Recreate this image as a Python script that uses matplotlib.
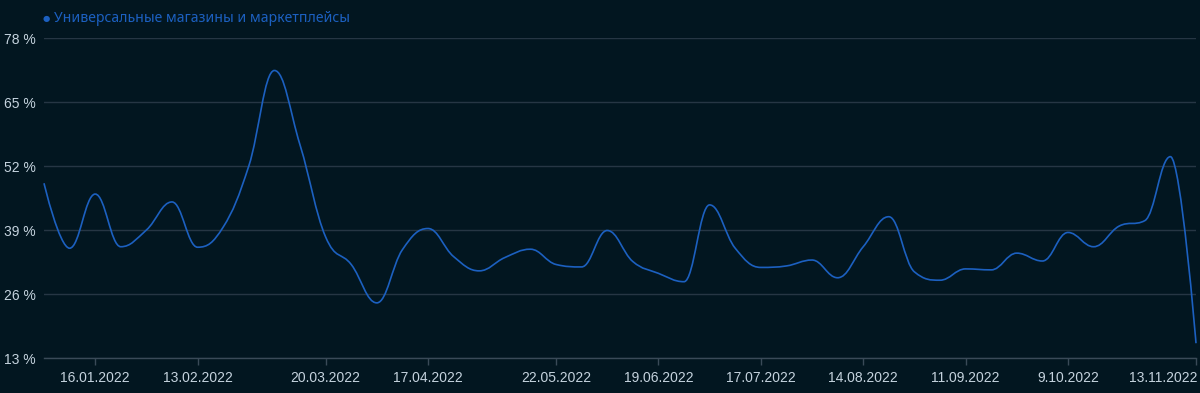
import numpy as np
import pandas as pd
import matplotlib
matplotlib.use("Agg")
import matplotlib.pyplot as plt
import matplotlib.dates as mdates
from matplotlib.path import Path
from matplotlib.patches import PathPatch
import matplotlib.transforms as mtransforms

# ---- data ----
series_name = "Универсальные магазины и маркетплейсы"
start_date = "2022-01-02"
values = [48.5, 35.3, 46.3, 35.6, 39.0, 44.7, 35.5, 39.6, 52.0, 71.4,
          56.3, 37.6, 32.0, 24.2, 35.0, 39.3, 33.6, 30.7, 33.4, 35.1,
          32.0, 31.5, 38.9, 32.6, 30.2, 28.5, 44.1, 35.3, 31.4, 31.7,
          32.9, 29.3, 35.6, 41.7, 30.5, 28.8, 31.1, 30.9, 34.3, 32.7,
          38.5, 35.6, 39.8, 40.9, 53.9, 16.0]
tick_dates = ["2022-01-16", "2022-02-13", "2022-03-20", "2022-04-17",
              "2022-05-22", "2022-06-19", "2022-07-17", "2022-08-14",
              "2022-09-11", "2022-10-09", "2022-11-13"]
tick_labels = ["16.01.2022", "13.02.2022", "20.03.2022", "17.04.2022",
               "22.05.2022", "19.06.2022", "17.07.2022", "14.08.2022",
               "11.09.2022", "9.10.2022", "13.11.2022"]
y_ticks = [13, 26, 39, 52, 65, 78]

dates = pd.date_range(start_date, periods=len(values), freq="7D")
xs = mdates.date2num(dates.to_pydatetime())
ys = np.array(values, dtype=float)

# ---- colours ----
BG = "#021620"
GRID = "#263644"
TXT = "#c5d3de"
LINE = "#1c60c0"

fig = plt.figure(figsize=(12, 3.93), dpi=100, facecolor=BG)
ax = fig.add_axes([44 / 1200, 1 - 358 / 393, (1196 - 44) / 1200, (358 - 38) / 393])
ax.set_facecolor(BG)


def spline_path(x, y, smoothing=1.5):
    n = len(x)
    denom = smoothing + 1
    verts = [(x[0], y[0])]
    codes = [Path.MOVETO]
    prev_right = (x[0], y[0])
    for i in range(1, n):
        px, py = x[i], y[i]
        if i < n - 1:
            lx, ly = x[i - 1], y[i - 1]
            nx, ny = x[i + 1], y[i + 1]
            lcx = (smoothing * px + lx) / denom
            lcy = (smoothing * py + ly) / denom
            rcx = (smoothing * px + nx) / denom
            rcy = (smoothing * py + ny) / denom
            corr = 0.0
            if rcx != lcx:
                corr = (rcy - lcy) * (rcx - px) / (rcx - lcx) + py - rcy
            lcy += corr
            rcy += corr
            if lcy > ly and lcy > py:
                lcy = max(ly, py); rcy = 2 * py - lcy
            elif lcy < ly and lcy < py:
                lcy = min(ly, py); rcy = 2 * py - lcy
            if rcy > ny and rcy > py:
                rcy = max(ny, py); lcy = 2 * py - rcy
            elif rcy < ny and rcy < py:
                rcy = min(ny, py); lcy = 2 * py - rcy
        else:
            lcx, lcy = px, py
            rcx, rcy = px, py
        verts += [prev_right, (lcx, lcy), (px, py)]
        codes += [Path.CURVE4, Path.CURVE4, Path.CURVE4]
        prev_right = (rcx, rcy)
    return Path(verts, codes)


patch = PathPatch(spline_path(xs, ys), facecolor="none", edgecolor=LINE,
                  lw=1.2, transform=ax.transData, zorder=3, clip_on=False)
ax.add_patch(patch)
ax.plot(xs, ys, alpha=0)  # register data limits

ax.set_xlim(xs[0], xs[-1])
ax.set_ylim(13, 78)

ax.set_yticks(y_ticks)
ax.set_yticklabels([f"{v} %" for v in y_ticks])
ax.set_xticks(mdates.date2num(pd.to_datetime(tick_dates).to_pydatetime()))
ax.set_xticklabels(tick_labels)

for s in ["top", "right", "left"]:
    ax.spines[s].set_visible(False)
ax.spines["bottom"].set_color("#3a4a58")
ax.spines["bottom"].set_linewidth(1.0)

ax.grid(axis="y", color=GRID, lw=1.0, zorder=0)
ax.set_axisbelow(True)

ax.tick_params(axis="y", length=0, pad=6, labelsize=10, labelcolor=TXT)
ax.tick_params(axis="x", length=5, width=1, color="#3a4a58", pad=4,
               labelsize=10, labelcolor=TXT)
for lab in ax.get_xticklabels() + ax.get_yticklabels():
    lab.set_fontfamily("Liberation Sans")

# last label right-aligned so it stays inside the figure
last = ax.get_xticklabels()[-1]
last.set_horizontalalignment("right")
last.set_transform(last.get_transform() + mtransforms.ScaledTranslation(2 / 100, 0, fig.dpi_scale_trans))

# legend-like title
fig.text(46 / 1200, 1 - 18 / 393, "●", color=LINE, fontsize=6,
         va="center", ha="center", family="DejaVu Sans")
fig.text(54 / 1200, 1 - 18.5 / 393, series_name, color=LINE, fontsize=10.1,
         va="center", ha="left", family="Noto Sans")

fig.savefig("out.png", dpi=100, facecolor=BG)
